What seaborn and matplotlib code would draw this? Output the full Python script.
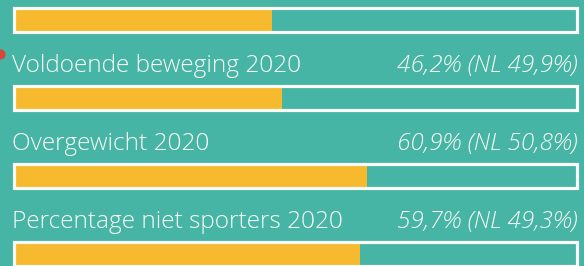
import matplotlib
matplotlib.use("Agg")
import matplotlib.pyplot as plt
import seaborn as sns
import pandas as pd

# --- DATA ---
labels = ["", "Voldoende beweging 2020", "Overgewicht 2020", "Percentage niet sporters 2020"]
values = [44.5, 46.2, 60.9, 59.7]
value_texts = ["", "46,2% (NL 49,9%)", "60,9% (NL 50,8%)", "59,7% (NL 49,3%)"]

# --- STYLE ---
TEAL = "#46B5A5"
YELLOW = "#F7B92D"
WHITE = "#FBFCF6"
TRACK_MAX = 97.0

sns.set_theme(style="white")
plt.rcParams["font.family"] = ["Open Sans", "DejaVu Sans"]

df = pd.DataFrame({"row": [str(i) for i in range(len(values))], "value": values})
df["track"] = TRACK_MAX

fig = plt.figure(figsize=(5.84, 2.66), dpi=100)
fig.patch.set_facecolor(TEAL)
ax = fig.add_axes([0, 0, 1, 1])
ax.set_facecolor(TEAL)

# yellow fill
sns.barplot(data=df, x="value", y="row", orient="h", color=YELLOW,
            width=0.32, saturation=1, linewidth=0, ax=ax, zorder=2)
# white outlined track
sns.barplot(data=df, x="track", y="row", orient="h", fill=False,
            width=0.32, edgecolor=WHITE, linewidth=2.3, ax=ax, zorder=3)

for i, (lab, vt) in enumerate(zip(labels, value_texts)):
    ax.annotate(lab, (0, i), xytext=(-1.5, 19), textcoords="offset points",
                ha="left", va="baseline", color=WHITE, fontsize=17.6, fontweight="light")
    ax.annotate(vt, (TRACK_MAX, i), xytext=(0.5, 19), textcoords="offset points",
                ha="right", va="baseline", color=WHITE, fontsize=17.6,
                fontweight="light", style="italic")

px = 5.8  # pixels per percent
ax.set_xlim(-14 / px, (584 - 14) / px)
ax.set_ylim((266 - 20) / 78, -20 / 78)
ax.axis("off")

# small red marker at left edge
ax.scatter([-14 / px], [0.43], s=40, color="#D9453A", zorder=4, clip_on=True)

fig.savefig("out.png", dpi=100, facecolor=TEAL)
